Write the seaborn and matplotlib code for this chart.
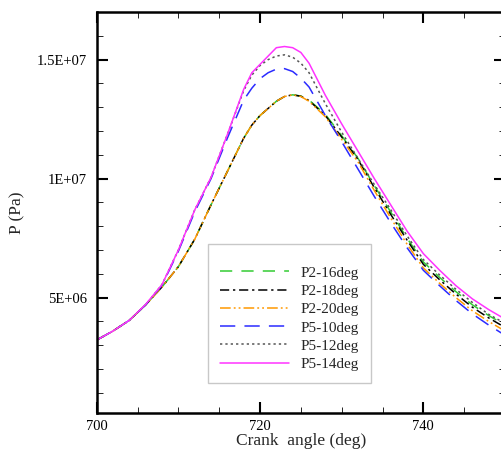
import numpy as np
import pandas as pd
import matplotlib
matplotlib.use("Agg")
import matplotlib.pyplot as plt
from matplotlib.ticker import FixedLocator, MultipleLocator, FixedFormatter
import seaborn as sns

# ---------------- data ----------------
crank = [700, 702, 704, 706, 708, 710, 712, 714, 716, 718, 719, 720, 721, 722, 723,
         724, 725, 726, 728, 730, 732, 734, 736, 738, 740, 742, 744, 746, 748, 750]

p2_16 = [3.22, 3.60, 4.05, 4.70, 5.45, 6.30, 7.45, 8.90, 10.30, 11.70, 12.25, 12.65, 12.95, 13.25, 13.45,
         13.52, 13.47, 13.30, 12.70, 11.80, 10.85, 9.70, 8.60, 7.50, 6.50, 5.85, 5.25, 4.70, 4.25, 3.85]
p2_18 = [3.22, 3.60, 4.05, 4.70, 5.45, 6.30, 7.45, 8.90, 10.30, 11.70, 12.25, 12.65, 12.95, 13.25, 13.45,
         13.52, 13.46, 13.28, 12.65, 11.75, 10.80, 9.62, 8.50, 7.42, 6.40, 5.75, 5.15, 4.60, 4.15, 3.75]
p2_20 = [3.22, 3.60, 4.05, 4.70, 5.45, 6.30, 7.45, 8.90, 10.30, 11.70, 12.25, 12.65, 12.95, 13.25, 13.45,
         13.52, 13.45, 13.25, 12.60, 11.65, 10.70, 9.50, 8.35, 7.25, 6.25, 5.60, 5.00, 4.45, 4.00, 3.60]
p5_10 = [3.22, 3.60, 4.05, 4.70, 5.52, 6.95, 8.60, 10.00, 11.70, 13.30, 13.80, 14.20, 14.45, 14.60, 14.62,
         14.50, 14.22, 13.85, 12.65, 11.55, 10.40, 9.25, 8.15, 7.10, 6.15, 5.50, 4.88, 4.32, 3.85, 3.42]
p5_12 = [3.22, 3.60, 4.05, 4.70, 5.55, 7.00, 8.68, 10.05, 11.85, 13.70, 14.35, 14.75, 15.00, 15.15, 15.20,
         15.10, 14.85, 14.45, 13.15, 11.95, 10.85, 9.75, 8.70, 7.60, 6.60, 5.95, 5.35, 4.80, 4.30, 3.92]
p5_14 = [3.22, 3.60, 4.05, 4.72, 5.55, 7.00, 8.68, 10.05, 11.85, 13.75, 14.45, 14.80, 15.15, 15.50, 15.55,
         15.50, 15.30, 14.85, 13.50, 12.30, 11.15, 10.00, 8.90, 7.80, 6.85, 6.15, 5.50, 4.95, 4.50, 4.10]

series_names = ["P2-16deg", "P2-18deg", "P2-20deg", "P5-10deg", "P5-12deg", "P5-14deg"]
series_vals = [p2_16, p2_18, p2_20, p5_10, p5_12, p5_14]

x_ticks = [700, 720, 740]
x_tick_labels = ["700", "720", "740"]
y_ticks = [5e6, 1e7, 1.5e7]
y_tick_labels = ["5E+06", "1E+07", "1.5E+07"]

# ---------------- style ----------------
sns.set_style("ticks")
plt.rcParams["font.family"] = ["Liberation Serif", "DejaVu Serif"]

colors = ["#33cc33", "#000000", "#ff9900", "#2b2bff", "#555555", "#ff33ff"]
styles = [(0, (8, 6)), (0, (6, 2.5, 1.5, 2.5)), (0, (7, 2, 1.2, 2, 1.2, 2)),
          (0, (10, 6)), (0, (1.5, 2)), "-"]

fig = plt.figure(figsize=(5.01, 4.54), dpi=100)
ax = fig.add_axes([0.193, 0.0903, 0.8150, 0.8833])

for name, vals, c, ls in zip(series_names, series_vals, colors, styles):
    df = pd.DataFrame({"x": crank, "y": np.array(vals) * 1e6})
    sns.lineplot(data=df, x="x", y="y", ax=ax, color=c, linestyle=ls,
                 linewidth=1.1, label=name, estimator=None, sort=False)

ax.set_xlim(700, 750)
ax.set_ylim(1.55e5, 1.70e7)

ax.xaxis.set_major_locator(FixedLocator(x_ticks))
ax.xaxis.set_major_formatter(FixedFormatter(x_tick_labels))
ax.xaxis.set_minor_locator(MultipleLocator(5))
ax.yaxis.set_major_locator(FixedLocator(y_ticks))
ax.yaxis.set_major_formatter(FixedFormatter(y_tick_labels))
ax.yaxis.set_minor_locator(MultipleLocator(1e6))

ax.tick_params(which="both", direction="in", top=True, right=True, labelsize=10.5, colors="black")
ax.tick_params(which="major", length=8, width=1.5, pad=7)
ax.tick_params(axis="x", which="major", pad=5)
ax.tick_params(which="minor", length=4, width=0.6)
for s in ax.spines.values():
    s.set_linewidth(1.8)
    s.set_color("black")

ax.set_xlabel("Crank  angle (deg)", fontsize=12.5, labelpad=0)
ax.set_ylabel("P (Pa)", fontsize=12.5, labelpad=8)

leg = ax.legend(loc="lower left", bbox_to_anchor=(0.273, 0.074), fontsize=11,
                frameon=True, fancybox=False, edgecolor="#c8c8c8", framealpha=1,
                handlelength=4.5, handletextpad=0.75, labelspacing=0.3,
                borderpad=0.8, borderaxespad=0, title=" ", title_fontsize=4)
leg.get_frame().set_linewidth(1.0)

fig.savefig("out.png", dpi=100)
